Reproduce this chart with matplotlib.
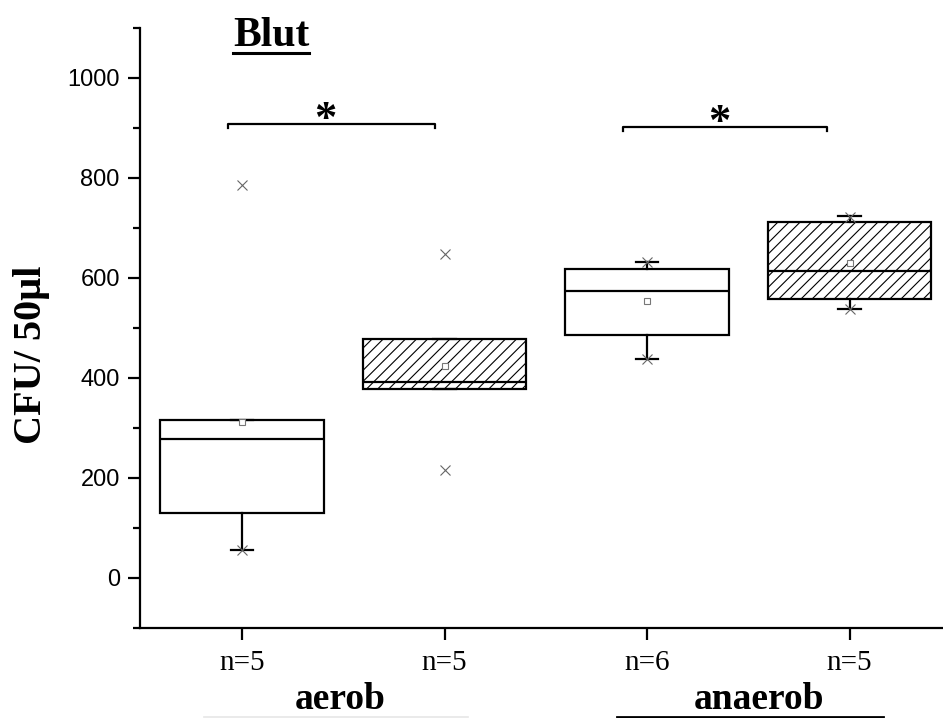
import matplotlib
matplotlib.use("Agg")
import matplotlib.pyplot as plt
from matplotlib.lines import Line2D

# values (CFU / 50 µl)
n_labels = ["n=5", "n=5", "n=6", "n=5"]
q1 = [130, 378, 486, 558]
median = [278, 393, 575, 615]
q3 = [316, 479, 618, 713]
whisker_lo = [56, 378, 439, 539]
whisker_hi = [316, 479, 633, 724]
means = [312, 424, 554, 630]
minmax = [[56, 786], [216, 649], [439, 633], [539, 722]]
hatched = [False, True, False, True]

groups = ["aerob", "anaerob"]
title = "Blut"
ylabel = "CFU/ 50µl"

# significance brackets: (x start, x end, height)
brackets = [(0.93, 1.955, 908), (2.88, 3.89, 902)]

serif = "Liberation Serif"
sans = "Liberation Sans"

plt.rcParams["hatch.linewidth"] = 0.8
fig = plt.figure(figsize=(9.43, 7.18), dpi=100)
ax = fig.add_axes([140 / 943, 1 - 628 / 718, 1 - 140 / 943, 600 / 718])

stats = []
for i in range(len(q1)):
    stats.append(dict(
        q1=q1[i], med=median[i], q3=q3[i],
        whislo=whisker_lo[i], whishi=whisker_hi[i],
        mean=means[i], fliers=minmax[i],
    ))

pos = [1, 2, 3, 4]
bp = ax.bxp(
    stats, positions=pos, widths=0.805, patch_artist=True,
    showmeans=True, showfliers=True, capwidths=0.11,
    boxprops=dict(facecolor="white", edgecolor="black", linewidth=1.6),
    medianprops=dict(color="black", linewidth=1.6),
    whiskerprops=dict(color="black", linewidth=1.6),
    capprops=dict(color="black", linewidth=1.6),
    meanprops=dict(marker="s", markerfacecolor="white", markeredgecolor="#777777",
                   markersize=5, markeredgewidth=0.8),
    flierprops=dict(marker="x", markeredgecolor="#666666", markersize=7,
                    markeredgewidth=0.8),
)
for box, h in zip(bp["boxes"], hatched):
    if h:
        box.set_hatch("///")

ax.set_xlim(1 - 102 / 202.5, 1 + 701 / 202.5)
ax.set_ylim(-100, 1100)
ax.set_yticks([0, 200, 400, 600, 800, 1000])
ax.set_yticks(list(range(-100, 1101, 200)), minor=True)
ax.set_xticks(pos)
ax.set_xticklabels(n_labels, family=serif, fontsize=21)
for lab in ax.get_yticklabels():
    lab.set_family(sans)
    lab.set_fontsize(17)

for side in ["top", "right"]:
    ax.spines[side].set_visible(False)
for side in ["left", "bottom"]:
    ax.spines[side].set_linewidth(1.6)
ax.tick_params(axis="both", which="major", length=8.5, width=1.6, direction="out")
ax.tick_params(axis="y", which="minor", length=5, width=1.6, direction="out")
ax.tick_params(axis="y", which="major", pad=6)
ax.tick_params(axis="x", which="major", pad=7)

ax.set_ylabel(ylabel, family=serif, fontweight="bold", fontsize=29)
ax.yaxis.set_label_coords(-0.112, 0.455)

# significance brackets
for x0, x1, yb in brackets:
    ax.plot([x0, x0, x1, x1], [yb - 7, yb, yb, yb - 7], color="black", lw=1.6,
            clip_on=False)
    ax.text((x0 + x1) / 2 - 0.03, yb - 14, "*", ha="center", va="baseline",
            family=serif, fontweight="bold", fontsize=32)

# title with underline
t = fig.text(271 / 943, 1 - 46 / 718, title, ha="center", va="baseline",
             family=serif, fontweight="bold", fontsize=30)
fig.canvas.draw()
bb = t.get_window_extent()
fig.add_artist(Line2D([bb.x0 / 943, bb.x1 / 943], [1 - 53 / 718, 1 - 53 / 718],
                      color="black", lw=2.2))

# group labels
fig.text(340 / 943, 1 - 709 / 718, groups[0], ha="center", va="baseline",
         family=serif, fontweight="bold", fontsize=27)
fig.text(759 / 943, 1 - 709 / 718, groups[1], ha="center", va="baseline",
         family=serif, fontweight="bold", fontsize=27)
fig.add_artist(Line2D([204 / 943, 468 / 943], [1 - 716.5 / 718] * 2,
                      color="#e6e6e6", lw=1.2))
fig.add_artist(Line2D([617 / 943, 883 / 943], [1 - 716.5 / 718] * 2,
                      color="black", lw=2))

fig.savefig("out.png", dpi=100)
